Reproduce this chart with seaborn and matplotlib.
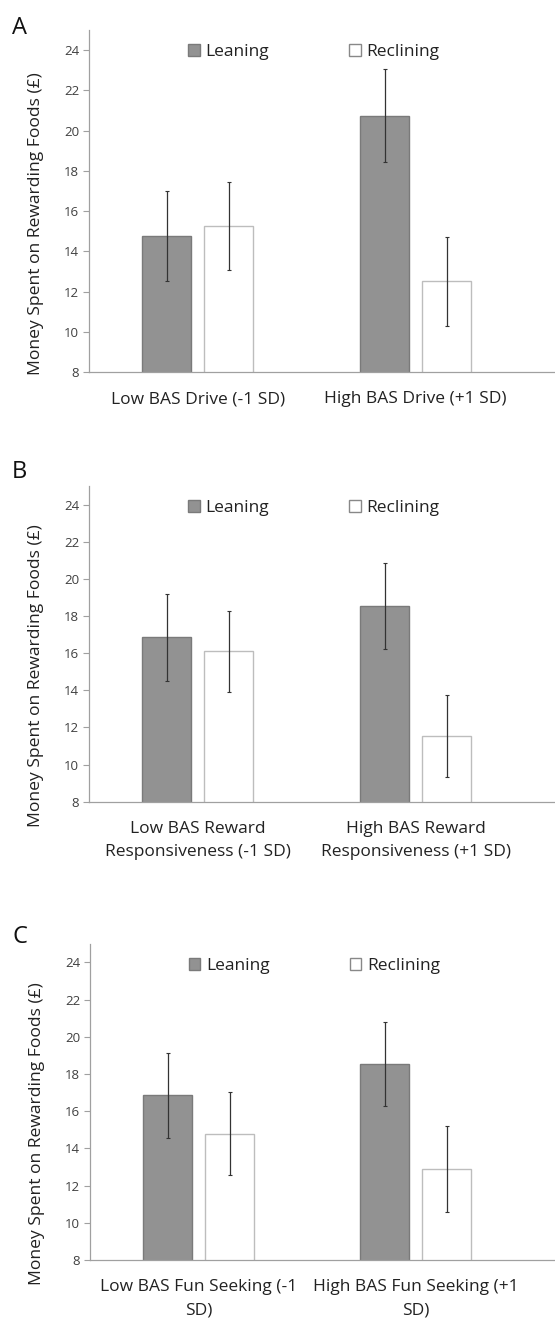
import numpy as np
import pandas as pd
import matplotlib
matplotlib.use("Agg")
import matplotlib.pyplot as plt
import seaborn as sns

# --- data ---
postures = ["Leaning", "Reclining"]

labels_a = ["Low BAS Drive (-1 SD)", "High BAS Drive (+1 SD)"]
lean_a = [14.75, 20.75]
recl_a = [15.25, 12.5]
lean_err_a = [2.25, 2.3]
recl_err_a = [2.2, 2.2]

labels_b = ["Low BAS Reward\nResponsiveness (-1 SD)", "High BAS Reward\nResponsiveness (+1 SD)"]
lean_b = [16.85, 18.55]
recl_b = [16.1, 11.55]
lean_err_b = [2.35, 2.3]
recl_err_b = [2.2, 2.2]

labels_c = ["Low BAS Fun Seeking (-1\nSD)", "High BAS Fun Seeking (+1\nSD)"]
lean_c = [16.85, 18.55]
recl_c = [14.8, 12.9]
lean_err_c = [2.3, 2.25]
recl_err_c = [2.25, 2.3]

yticks = [8, 10, 12, 14, 16, 18, 20, 22, 24]
ylabel = "Money Spent on Rewarding Foods (£)"

sns.set_style("white")
plt.rcParams["font.family"] = ["Open Sans", "DejaVu Sans"]

GRAY = "#929292"
GRAY_EDGE = "#7a7a7a"
WHITE_EDGE = "#bdbdbd"
AXIS = "#a0a0a0"

fig = plt.figure(figsize=(5.55, 13.23), dpi=100)
H = 1323.0

# panel letter, labels, values, errors, axes rect, letter baseline (px from top), ylabel centre
panels = [
    ("A", labels_a, lean_a, recl_a, lean_err_a, recl_err_a, [0.160, 0.7188, 0.840, 0.2585], 34, 0.435),
    ("B", labels_b, lean_b, recl_b, lean_err_b, recl_err_b, [0.160, 0.3940, 0.840, 0.2385], 478, 0.40),
    ("C", labels_c, lean_c, recl_c, lean_err_c, recl_err_c, [0.162, 0.0476, 0.838, 0.2390], 943, 0.40),
]

for letter, cats, lean, recl, lean_err, recl_err, pos, ly, ymid in panels:
    ax = fig.add_axes(pos)
    df = pd.DataFrame({
        "level": cats * 2,
        "posture": [postures[0]] * 2 + [postures[1]] * 2,
        "value": lean + recl,
    })
    sns.barplot(data=df, x="level", y="value", hue="posture", order=cats,
                hue_order=postures, palette={"Leaning": GRAY, "Reclining": "white"},
                width=0.57, gap=0.21, errorbar=None, ax=ax, linewidth=1.0)

    for cont, ec, errs in zip(ax.containers, [GRAY_EDGE, WHITE_EDGE], [lean_err, recl_err]):
        for p, e in zip(cont.patches, errs):
            p.set_edgecolor(ec)
            ax.errorbar(p.get_x() + p.get_width() / 2, p.get_height(), yerr=e,
                        fmt="none", ecolor="#333333", elinewidth=0.9,
                        capsize=1.5, capthick=0.8, zorder=5)

    ax.set_ylim(8, 25)
    ax.set_xlim(-0.5, 1.64)
    ax.set_yticks(yticks)
    ax.tick_params(axis="y", length=4, width=0.8, color=AXIS, labelsize=9.5,
                   labelcolor="#404040", pad=3, left=True)
    ax.tick_params(axis="x", length=0, labelsize=12.5, labelcolor="#222222", pad=14)
    for t in ax.get_xticklabels():
        t.set_linespacing(1.6)
    for s in ["top", "right"]:
        ax.spines[s].set_visible(False)
    for s in ["left", "bottom"]:
        ax.spines[s].set_color(AXIS)
        ax.spines[s].set_linewidth(0.9)
    ax.set_xlabel("")
    ax.set_ylabel(ylabel, fontsize=12.6, color="#222222")
    ax.yaxis.set_label_coords(-0.097, ymid)

    handles, labs = ax.get_legend_handles_labels()
    for h, ec in zip(handles, [GRAY_EDGE, "#888888"]):
        h.set_edgecolor(ec)
    ax.legend(handles, labs, loc="upper center", bbox_to_anchor=(0.483, 1.005),
              ncol=2, frameon=False, fontsize=12.5, handlelength=0.65,
              handleheight=0.65, handletextpad=0.35, columnspacing=4.6,
              labelcolor="#222222")

    fig.text(12 / 555, 1 - ly / H, letter, fontsize=17, color="#111111",
             va="baseline", ha="left")

fig.savefig("out.png", dpi=100)
